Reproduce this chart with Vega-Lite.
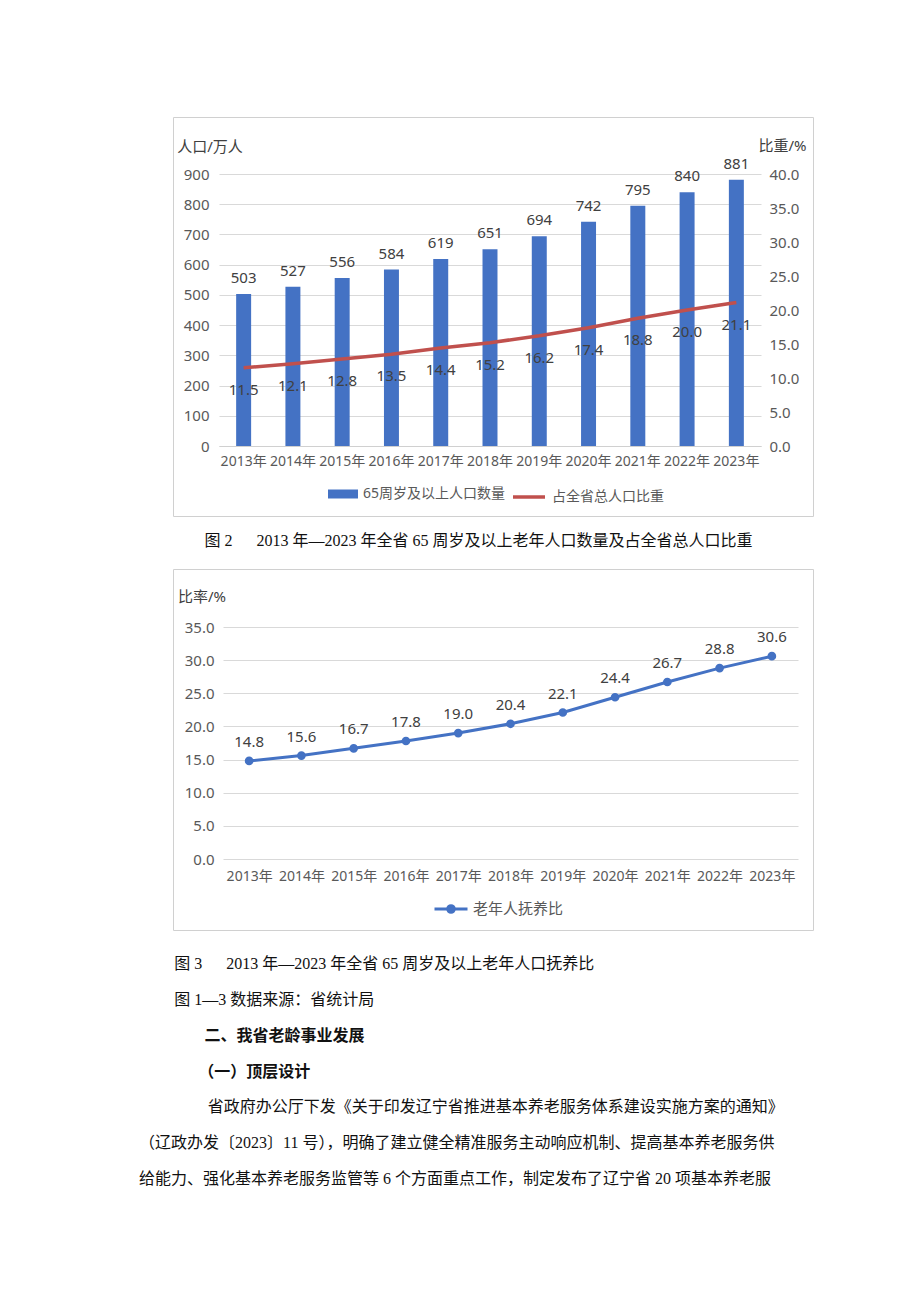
{
  "$schema": "https://vega.github.io/schema/vega-lite/v6.json",
  "background": "white",
  "padding": {"left": 138, "top": 116, "right": 0, "bottom": 0},
  "bounds": "flush",
  "spacing": 0,
  "config": {
    "font": "Noto Sans, Noto Sans CJK SC",
    "view": {"stroke": "#d0d0d0", "strokeWidth": 1},
    "axis": {"labelColor": "#595959", "titleColor": "#404040", "titleFontWeight": "normal", "ticks": false, "domain": false, "gridColor": "#d9d9d9", "gridWidth": 1},
    "legend": {"labelColor": "#595959"}
  },
  "resolve": {
    "scale": {"stroke": "independent", "fill": "independent", "x": "independent", "y": "independent"},
    "legend": {"stroke": "independent", "fill": "independent"}
  },
  "vconcat": [
    {
      "width": 640,
      "height": 399,
      "data": {"values": [
        {"year": "2013年", "pop": 503, "share": 11.5},
        {"year": "2014年", "pop": 527, "share": 12.1},
        {"year": "2015年", "pop": 556, "share": 12.8},
        {"year": "2016年", "pop": 584, "share": 13.5},
        {"year": "2017年", "pop": 619, "share": 14.4},
        {"year": "2018年", "pop": 651, "share": 15.2},
        {"year": "2019年", "pop": 694, "share": 16.2},
        {"year": "2020年", "pop": 742, "share": 17.4},
        {"year": "2021年", "pop": 795, "share": 18.8},
        {"year": "2022年", "pop": 840, "share": 20.0},
        {"year": "2023年", "pop": 881, "share": 21.1}
      ]},
      "encoding": {
        "x": {
          "field": "year", "type": "ordinal", "sort": null,
          "scale": {"type": "band", "range": [46, 588], "paddingInner": 0.696, "paddingOuter": 0.348},
          "axis": {"title": null, "labelAngle": 0, "labelFontSize": 14, "labelPadding": 8, "offset": -70, "domain": true, "domainColor": "#d0d0d0", "grid": false}
        }
      },
      "layer": [
        {
          "encoding": {
            "y": {
              "field": "pop", "type": "quantitative",
              "scale": {"domain": [0, 900], "range": [329, 57], "nice": false},
              "axis": {"orient": "left", "values": [0, 100, 200, 300, 400, 500, 600, 700, 800, 900], "title": "人口/万人", "titleAngle": 0, "titleAlign": "center", "titleBaseline": "middle", "titleX": -9.5, "titleY": 29, "titleFontSize": 15, "labelFontSize": 15, "labelPadding": 10, "offset": -46, "grid": true}
            }
          },
          "layer": [
            {
              "mark": {"type": "bar"},
              "encoding": {
                "fill": {"datum": "65周岁及以上人口数量", "type": "nominal", "scale": {"range": ["#4472c4"]},
                  "legend": {"orient": "none", "legendX": 155, "legendY": 362, "title": null, "symbolType": "M-1,-0.3H1V0.3H-1Z", "symbolSize": 900, "symbolStrokeWidth": 0, "labelFontSize": 14, "labelOffset": 5}}
              }
            },
            {
              "mark": {"type": "text", "dy": -16, "fontSize": 15, "color": "#404040", "baseline": "middle"},
              "encoding": {"text": {"field": "pop", "type": "quantitative"}}
            }
          ]
        },
        {
          "encoding": {
            "y": {
              "field": "share", "type": "quantitative",
              "scale": {"domain": [0, 40], "range": [329, 57], "nice": false},
              "axis": {"orient": "right", "values": [0, 5, 10, 15, 20, 25, 30, 35, 40], "format": ".1f", "title": "比重/%", "titleAngle": 0, "titleAlign": "center", "titleBaseline": "middle", "titleX": 21, "titleY": 28, "titleFontSize": 15, "labelFontSize": 15, "labelPadding": 8, "offset": -52, "grid": false}
            }
          },
          "layer": [
            {
              "mark": {"type": "line", "strokeWidth": 3.5},
              "encoding": {
                "stroke": {"datum": "占全省总人口比重", "type": "nominal", "scale": {"range": ["#c0504d"]},
                  "legend": {"orient": "none", "legendX": 338, "legendY": 362, "title": null, "symbolType": "M-1,0H1", "symbolSize": 1024, "symbolStrokeWidth": 3.5, "labelFontSize": 14, "labelOffset": 5}}
              }
            },
            {
              "mark": {"type": "text", "dy": 22, "fontSize": 15, "color": "#404040", "baseline": "middle"},
              "encoding": {"text": {"field": "share", "type": "quantitative", "format": ".1f"}}
            }
          ]
        }
      ],
      "resolve": {"scale": {"y": "independent"}}
    },
    {
      "width": 640,
      "height": 53,
      "view": {"stroke": "transparent"},
      "data": {"values": [
        {"line": 1, "role": "caption", "text": "图 2\u2003\u20022013 年—2023 年全省 65 周岁及以上老年人口数量及占全省总人口比重"}
      ]},
      "mark": {"type": "text", "align": "left", "baseline": "middle", "fontSize": 16, "dy": -2, "font": "Liberation Serif, Noto Sans CJK SC", "color": "#111111"},
      "encoding": {
        "x": {"datum": 4.1, "type": "quantitative", "scale": {"domain": [2.125, 42.125], "nice": false, "zero": false}, "axis": null},
        "text": {"field": "text"}
      }
    },
    {
      "width": 640,
      "height": 361,
      "data": {"values": [
        {"year": "2013年", "ratio": 14.8},
        {"year": "2014年", "ratio": 15.6},
        {"year": "2015年", "ratio": 16.7},
        {"year": "2016年", "ratio": 17.8},
        {"year": "2017年", "ratio": 19.0},
        {"year": "2018年", "ratio": 20.4},
        {"year": "2019年", "ratio": 22.1},
        {"year": "2020年", "ratio": 24.4},
        {"year": "2021年", "ratio": 26.7},
        {"year": "2022年", "ratio": 28.8},
        {"year": "2023年", "ratio": 30.6}
      ]},
      "encoding": {
        "x": {
          "field": "year", "type": "ordinal", "sort": null,
          "scale": {"type": "point", "range": [50, 625], "padding": 0.5},
          "axis": {"title": null, "labelAngle": 0, "labelFontSize": 14, "labelPadding": 10, "offset": -71, "domain": false, "grid": false}
        },
        "y": {
          "field": "ratio", "type": "quantitative",
          "scale": {"domain": [0, 35], "range": [290, 58], "nice": false},
          "axis": {"values": [0, 5, 10, 15, 20, 25, 30, 35], "format": ".1f", "title": "比率/%", "titleAngle": 0, "titleAlign": "center", "titleBaseline": "middle", "titleX": -21.5, "titleY": 27, "titleFontSize": 15, "labelFontSize": 15, "labelPadding": 9, "offset": -50, "grid": true}
        }
      },
      "layer": [
        {
          "mark": {"type": "line", "strokeWidth": 3, "point": {"filled": true, "size": 45, "fill": "#4472c4"}},
          "encoding": {
            "stroke": {"datum": "老年人抚养比", "type": "nominal", "scale": {"range": ["#4472c4"]},
              "legend": {"orient": "none", "legendX": 260, "legendY": 322, "title": null, "symbolType": "M-1,0H1M0.2,0A0.2,0.2,0,1,1,-0.2,0A0.2,0.2,0,1,1,0.2,0Z", "symbolSize": 1089, "symbolStrokeWidth": 3, "symbolFillColor": "#4472c4", "labelFontSize": 15, "labelOffset": 4}}
          }
        },
        {
          "mark": {"type": "text", "dy": -19, "fontSize": 15, "color": "#404040", "baseline": "middle"},
          "encoding": {"text": {"field": "ratio", "type": "quantitative", "format": ".1f"}}
        }
      ]
    },
    {
      "width": 640,
      "height": 283,
      "view": {"stroke": "transparent"},
      "data": {"values": [
        {"line": 1, "role": "caption", "text": "图 3\u2003\u20022013 年—2023 年全省 65 周岁及以上老年人口抚养比"},
        {"line": 2, "role": "caption", "text": "图 1—3 数据来源：省统计局"},
        {"line": 3, "role": "heading", "text": "二、我省老龄事业发展"},
        {"line": 4, "role": "subheading", "text": "（一）顶层设计"},
        {"line": 5, "role": "first-line", "text": "省政府办公厅下发《关于印发辽宁省推进基本养老服务体系建设实施方案的通知》"},
        {"line": 6, "role": "paragraph", "text": "（辽政办发〔2023〕11 号），明确了建立健全精准服务主动响应机制、提高基本养老服务供"},
        {"line": 7, "role": "paragraph", "text": "给能力、强化基本养老服务监管等 6 个方面重点工作，制定发布了辽宁省 20 项基本养老服"}
      ]},
      "encoding": {
        "y": {"field": "line", "type": "ordinal", "scale": {"type": "point", "padding": 0.939}, "axis": null},
        "text": {"field": "text"}
      },
      "layer": [
        {
          "transform": [{"filter": "datum.role == 'caption'"}],
          "mark": {"type": "text", "align": "left", "baseline": "middle", "fontSize": 16, "font": "Liberation Serif, Noto Sans CJK SC", "color": "#111111"},
          "encoding": {"x": {"datum": 2.2, "type": "quantitative", "scale": {"domain": [2.125, 42.125], "nice": false, "zero": false}, "axis": null}}
        },
        {
          "transform": [{"filter": "datum.role == 'heading'"}],
          "mark": {"type": "text", "align": "left", "baseline": "middle", "fontSize": 16, "fontWeight": "bold", "font": "Liberation Serif, Noto Sans CJK SC", "color": "#111111"},
          "encoding": {"x": {"datum": 4.1, "type": "quantitative"}}
        },
        {
          "transform": [{"filter": "datum.role == 'subheading'"}],
          "mark": {"type": "text", "align": "left", "baseline": "middle", "fontSize": 16, "fontWeight": "bold", "font": "Liberation Serif, Noto Sans CJK SC", "color": "#111111"},
          "encoding": {"x": {"datum": 3.7, "type": "quantitative"}}
        },
        {
          "transform": [{"filter": "datum.role == 'first-line'"}],
          "mark": {"type": "text", "align": "left", "baseline": "middle", "fontSize": 16, "font": "Liberation Serif, Noto Sans CJK SC", "color": "#111111"},
          "encoding": {"x": {"datum": 4.3, "type": "quantitative"}}
        },
        {
          "transform": [{"filter": "datum.role == 'paragraph'"}],
          "mark": {"type": "text", "align": "left", "baseline": "middle", "fontSize": 16, "font": "Liberation Serif, Noto Sans CJK SC", "color": "#111111"},
          "encoding": {"x": {"datum": 0, "type": "quantitative"}}
        }
      ]
    }
  ]
}
